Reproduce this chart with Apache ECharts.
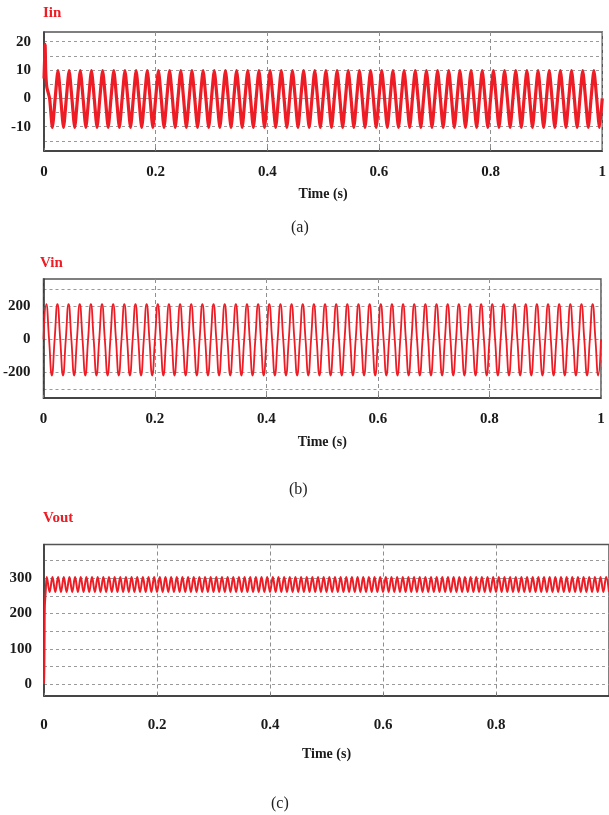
<!DOCTYPE html>
<html><head><meta charset="utf-8">
<script src="https://cdn.jsdelivr.net/npm/echarts@6/dist/echarts.min.js"></script>
<style>html,body{margin:0;padding:0;background:#fff}#c{width:609px;height:815px}</style>
</head><body><div id="c"></div>
<script>
// ---- tick / grid values ----
const xTickValues = [0, 0.2, 0.4, 0.6, 0.8, 1];
const xTickValuesC = [0, 0.2, 0.4, 0.6, 0.8];
const iinLabels = [-10, 0, 10, 20];
const iinGridValues = [-15, -10, -5, 0, 5, 10, 15, 20];
const vinLabels = [-200, 0, 200];
const vinGridValues = [-300, -200, -100, 0, 100, 200, 300];
const voutLabels = [0, 100, 200, 300];
const voutGridValues = [0, 50, 100, 150, 200, 250, 300, 350];

// ---- data ----
const sampleStep = 0.005; // s between uniform samples
// Iin: start-up spike [t, A], then uniform samples from t = 0.01 s
const iinStart = [[0, 7], [0.001, 13], [0.002, 19], [0.003, 10], [0.005, 4]];
const iinValues = [
0,-10.3,0,9.8, 0,-10.3,0,9.8, 0,-10.3,0,9.8, 0,-10.3,0,9.8, 0,-10.3,0,9.8,
0,-10.3,0,9.8, 0,-10.3,0,9.8, 0,-10.3,0,9.8, 0,-10.3,0,9.8, 0,-10.3,0,9.8,
0,-10.3,0,9.8, 0,-10.3,0,9.8, 0,-10.3,0,9.8, 0,-10.3,0,9.8, 0,-10.3,0,9.8,
0,-10.3,0,9.8, 0,-10.3,0,9.8, 0,-10.3,0,9.8, 0,-10.3,0,9.8, 0,-10.3,0,9.8,
0,-10.3,0,9.8, 0,-10.3,0,9.8, 0,-10.3,0,9.8, 0,-10.3,0,9.8, 0,-10.3,0,9.8,
0,-10.3,0,9.8, 0,-10.3,0,9.8, 0,-10.3,0,9.8, 0,-10.3,0,9.8, 0,-10.3,0,9.8,
0,-10.3,0,9.8, 0,-10.3,0,9.8, 0,-10.3,0,9.8, 0,-10.3,0,9.8, 0,-10.3,0,9.8,
0,-10.3,0,9.8, 0,-10.3,0,9.8, 0,-10.3,0,9.8, 0,-10.3,0,9.8, 0,-10.3,0,9.8,
0,-10.3,0,9.8, 0,-10.3,0,9.8, 0,-10.3,0,9.8, 0,-10.3,0,9.8, 0,-10.3,0,9.8,
0,-10.3,0,9.8, 0,-10.3,0,9.8, 0,-10.3,0,9.8, 0,-10.3,0,9.8,
0,-10.3,0
];
// Vin: uniform samples from t = 0 s
const vinValues = [
0,213,0,-220, 0,213,0,-220, 0,213,0,-220, 0,213,0,-220, 0,213,0,-220,
0,213,0,-220, 0,213,0,-220, 0,213,0,-220, 0,213,0,-220, 0,213,0,-220,
0,213,0,-220, 0,213,0,-220, 0,213,0,-220, 0,213,0,-220, 0,213,0,-220,
0,213,0,-220, 0,213,0,-220, 0,213,0,-220, 0,213,0,-220, 0,213,0,-220,
0,213,0,-220, 0,213,0,-220, 0,213,0,-220, 0,213,0,-220, 0,213,0,-220,
0,213,0,-220, 0,213,0,-220, 0,213,0,-220, 0,213,0,-220, 0,213,0,-220,
0,213,0,-220, 0,213,0,-220, 0,213,0,-220, 0,213,0,-220, 0,213,0,-220,
0,213,0,-220, 0,213,0,-220, 0,213,0,-220, 0,213,0,-220, 0,213,0,-220,
0,213,0,-220, 0,213,0,-220, 0,213,0,-220, 0,213,0,-220, 0,213,0,-220,
0,213,0,-220, 0,213,0,-220, 0,213,0,-220, 0,213,0,-220, 0,213,0,-220,
0
];
// Vout: start-up rise [t, V], then uniform samples from t = 0.01 s
const voutStart = [[0, 0], [0.0005, 30], [0.001, 125], [0.0015, 220], [0.003, 262], [0.005, 304]];
const voutValues = [
261,304, 261,304, 261,304, 261,304, 261,304, 261,304, 261,304, 261,304, 261,304, 261,304,
261,304, 261,304, 261,304, 261,304, 261,304, 261,304, 261,304, 261,304, 261,304, 261,304,
261,304, 261,304, 261,304, 261,304, 261,304, 261,304, 261,304, 261,304, 261,304, 261,304,
261,304, 261,304, 261,304, 261,304, 261,304, 261,304, 261,304, 261,304, 261,304, 261,304,
261,304, 261,304, 261,304, 261,304, 261,304, 261,304, 261,304, 261,304, 261,304, 261,304,
261,304, 261,304, 261,304, 261,304, 261,304, 261,304, 261,304, 261,304, 261,304, 261,304,
261,304, 261,304, 261,304, 261,304, 261,304, 261,304, 261,304, 261,304, 261,304, 261,304,
261,304, 261,304, 261,304, 261,304, 261,304, 261,304, 261,304, 261,304, 261,304, 261,304,
261,304, 261,304, 261,304, 261,304, 261,304, 261,304, 261,304, 261,304, 261,304, 261,304,
261,304, 261,304, 261,304, 261,304, 261,304, 261,304, 261,304, 261,304, 261,304,
261
];

// ---- build series points ----
function uniform(values, t0) {
  return values.map((v, j) => [Math.round((t0 + j * sampleStep) * 10000) / 10000, v]);
}
const iinData = iinStart.concat(uniform(iinValues, 0.01));
const vinData = uniform(vinValues, 0);
const voutData = voutStart.concat(uniform(voutValues, 0.01));

const RED = '#ee1c25';
const serif = 'Liberation Serif';
const tickFont = { fontFamily: serif, fontWeight: 'bold', fontSize: 15, color: '#1a1a1a' };

function xAxis(gi, labels, labelMargin, nameGap) {
  return {
    type: 'value', gridIndex: gi, min: 0, max: 1, interval: 0.2,
    axisLine: { show: true, onZero: false, lineStyle: { color: '#333', width: 1.5 } },
    axisTick: { show: true, inside: true, length: 3, lineStyle: { color: '#777' } },
    axisLabel: Object.assign({ customValues: labels, margin: labelMargin }, tickFont),
    splitLine: { show: true, lineStyle: { type: [4, 3], color: '#8f8f8f', width: 1 } },
    name: 'Time (s)', nameLocation: 'middle', nameGap: nameGap,
    nameTextStyle: { fontFamily: serif, fontWeight: 'bold', fontSize: 14, color: '#1a1a1a' }
  };
}
function yAxis(gi, min, max, labels, gridVals, margin) {
  return {
    type: 'value', gridIndex: gi, min: min, max: max,
    axisLine: { show: true, onZero: false, lineStyle: { color: '#333', width: 1.5 } },
    axisTick: { show: false, customValues: gridVals },
    axisLabel: Object.assign({ customValues: labels, margin: margin }, tickFont),
    splitLine: { show: true, lineStyle: { type: [3, 3], color: '#9a9a9a', width: 1 } }
  };
}
function lineSeries(i, data, width, smooth) {
  return {
    type: 'line', xAxisIndex: i, yAxisIndex: i, data: data, showSymbol: false,
    smooth: smooth, clip: true, lineStyle: { color: RED, width: width }, z: 3
  };
}

const chart = echarts.init(document.getElementById('c'), null, { renderer: 'canvas' });
chart.setOption({
  animation: false,
  backgroundColor: '#fff',
  grid: [
    { left: 44, top: 32, width: 563, height: 119, show: true, borderColor: '#555', borderWidth: 1.5, backgroundColor: 'transparent' },
    { left: 41, top: 279, width: 560, height: 119, show: true, borderColor: '#555', borderWidth: 1.5, backgroundColor: 'transparent' },
    { left: 44, top: 544.5, width: 568, height: 151.5, show: true, borderColor: '#555', borderWidth: 1.5, backgroundColor: 'transparent' }
  ],
  xAxis: [
    xAxis(0, xTickValues, 14, 36),
    xAxis(1, xTickValues, 14, 37),
    xAxis(2, xTickValuesC, 22, 51)
  ],
  yAxis: [
    yAxis(0, -18.6, 23.4, iinLabels, iinGridValues, 13),
    yAxis(1, -356, 365, vinLabels, vinGridValues, 13),
    yAxis(2, -34, 396, voutLabels, voutGridValues, 12)
  ],
  series: [
    lineSeries(0, iinData, 3.2, 0.2),
    lineSeries(1, vinData, 1.8, 0.5),
    lineSeries(2, voutData, 2, 0.4)
  ],
  graphic: [
    { type: 'text', left: 43, top: 6, style: { text: 'Iin', fill: RED, font: 'bold 15px "Liberation Serif"' } },
    { type: 'text', left: 40, top: 256, style: { text: 'Vin', fill: RED, font: 'bold 15px "Liberation Serif"' } },
    { type: 'text', left: 43, top: 511, style: { text: 'Vout', fill: RED, font: 'bold 15px "Liberation Serif"' } },
    { type: 'text', left: 291, top: 220, style: { text: '(a)', fill: '#222', font: '16px "Liberation Serif"' } },
    { type: 'text', left: 289, top: 482, style: { text: '(b)', fill: '#222', font: '16px "Liberation Serif"' } },
    { type: 'text', left: 271, top: 796, style: { text: '(c)', fill: '#222', font: '16px "Liberation Serif"' } }
  ]
});
</script></body></html>
